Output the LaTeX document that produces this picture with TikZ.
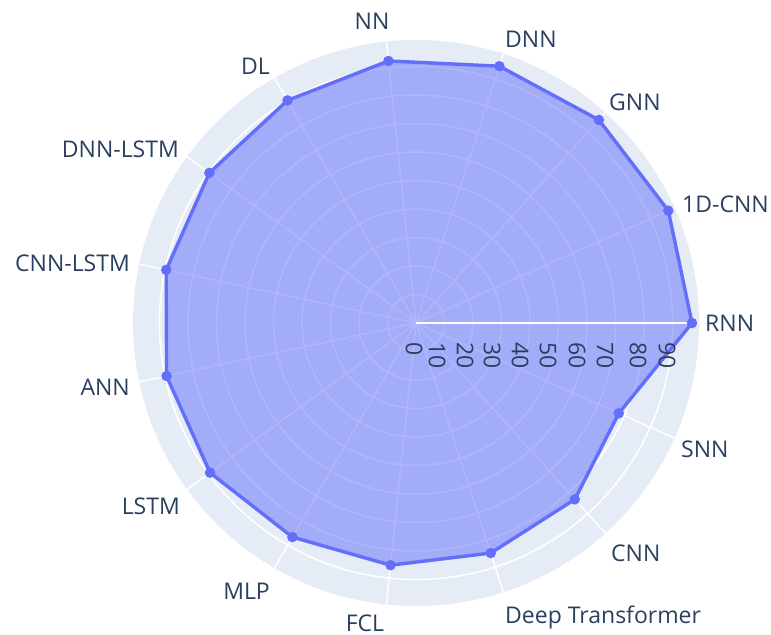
\documentclass[tikz,border=0pt]{standalone}
\usepackage{fontspec}
\setmainfont{Open Sans}
\definecolor{bg}{HTML}{E5ECF6}
\definecolor{trace}{HTML}{636EFA}
\definecolor{txt}{HTML}{2A3F5F}
\begin{document}
\begin{tikzpicture}[x=1bp,y=1bp,
  lab/.style={text=txt, font=\fontsize{23bp}{27bp}\selectfont, inner sep=0pt},
  tick/.style={lab, rotate=-90, anchor=west},
  gridline/.style={draw=white, line width=1.5bp},
  traceline/.style={draw=trace, line width=3.4bp, line join=round},
  tracefill/.style={fill=trace, fill opacity=0.5},
  mk/.style={circle, fill=trace, inner sep=0pt, minimum size=10.5bp}]
\useasboundingbox (0,0) rectangle (771,-635);
% polar area
\begin{scope}[shift={(416,-323)}]
  \fill[bg] (0,0) coordinate (c) circle (283);
  \foreach \v in {10,20,...,90} \draw[gridline] (c) circle ({\v*2.85});
  \foreach \a in {0,24,...,336} \draw[gridline] (c) -- (\a:283);
  % data points
  \coordinate (p1) at (0:276);
  \coordinate (p2) at (24:276.2);
  \coordinate (p3) at (48:273.3);
  \coordinate (p4) at (72:270);
  \coordinate (p5) at (96:263.5);
  \coordinate (p6) at (120:257);
  \coordinate (p7) at (144:255.4);
  \coordinate (p8) at (168:255.4);
  \coordinate (p9) at (192:255);
  \coordinate (p10) at (216:254.6);
  \coordinate (p11) at (240:247.2);
  \coordinate (p12) at (264:243.5);
  \coordinate (p13) at (288:241.9);
  \coordinate (p14) at (312:237.3);
  \coordinate (p15) at (336:222);
  \coordinate (rend) at (0:283);
  \fill[tracefill] (p1) -- (p2) -- (p3) -- (p4) -- (p5) -- (p6) -- (p7) -- (p8)
     -- (p9) -- (p10) -- (p11) -- (p12) -- (p13) -- (p14) -- (p15) -- cycle;
  \draw[traceline] (p1) -- (p2) -- (p3) -- (p4) -- (p5) -- (p6) -- (p7) -- (p8)
     -- (p9) -- (p10) -- (p11) -- (p12) -- (p13) -- (p14) -- (p15) -- cycle;
  \draw[white, line width=2bp] (c) -- (rend);
  \foreach \i in {1,...,15} \node[mk] (m\i) at (p\i) {};
\end{scope}
% radial tick labels
\node[tick] (t0) at (414,-342) {0};
\node[tick] (t1) at (437,-342) {10};
\node[tick] (t2) at (465,-342) {20};
\node[tick] (t3) at (492,-342) {30};
\node[tick] (t4) at (520,-342) {40};
\node[tick] (t5) at (548,-342) {50};
\node[tick] (t6) at (577,-342) {60};
\node[tick] (t7) at (605,-342) {70};
\node[tick] (t8) at (638,-342) {80};
\node[tick] (t9) at (667,-342) {90};
% category labels
\node[lab, anchor=base west] (lRNN) at (705,-331) {RNN};
\node[lab, anchor=base west] (l1D) at (682,-213) {1D-CNN};
\node[lab, anchor=base west] (lGNN) at (609,-111) {GNN};
\node[lab, anchor=base west] (lDNN) at (505,-47.5) {DNN};
\node[lab, anchor=base] (lNN) at (372,-30) {NN};
\node[lab, anchor=base east] (lDL) at (270,-75) {DL};
\node[lab, anchor=base east] (lDNNLSTM) at (179,-158) {DNN-LSTM};
\node[lab, anchor=base east] (lCNNLSTM) at (130,-271) {CNN-LSTM};
\node[lab, anchor=base east] (lANN) at (130,-395) {ANN};
\node[lab, anchor=base east] (lLSTM) at (180,-514) {LSTM};
\node[lab, anchor=base east] (lMLP) at (270,-599) {MLP};
\node[lab, anchor=base] (lFCL) at (365,-631) {FCL};
\node[lab, anchor=base west] (lDT) at (505,-623) {Deep Transformer};
\node[lab, anchor=base west] (lCNN) at (611,-561) {CNN};
\node[lab, anchor=base west] (lSNN) at (681,-457.5) {SNN};
\end{tikzpicture}
\end{document}
